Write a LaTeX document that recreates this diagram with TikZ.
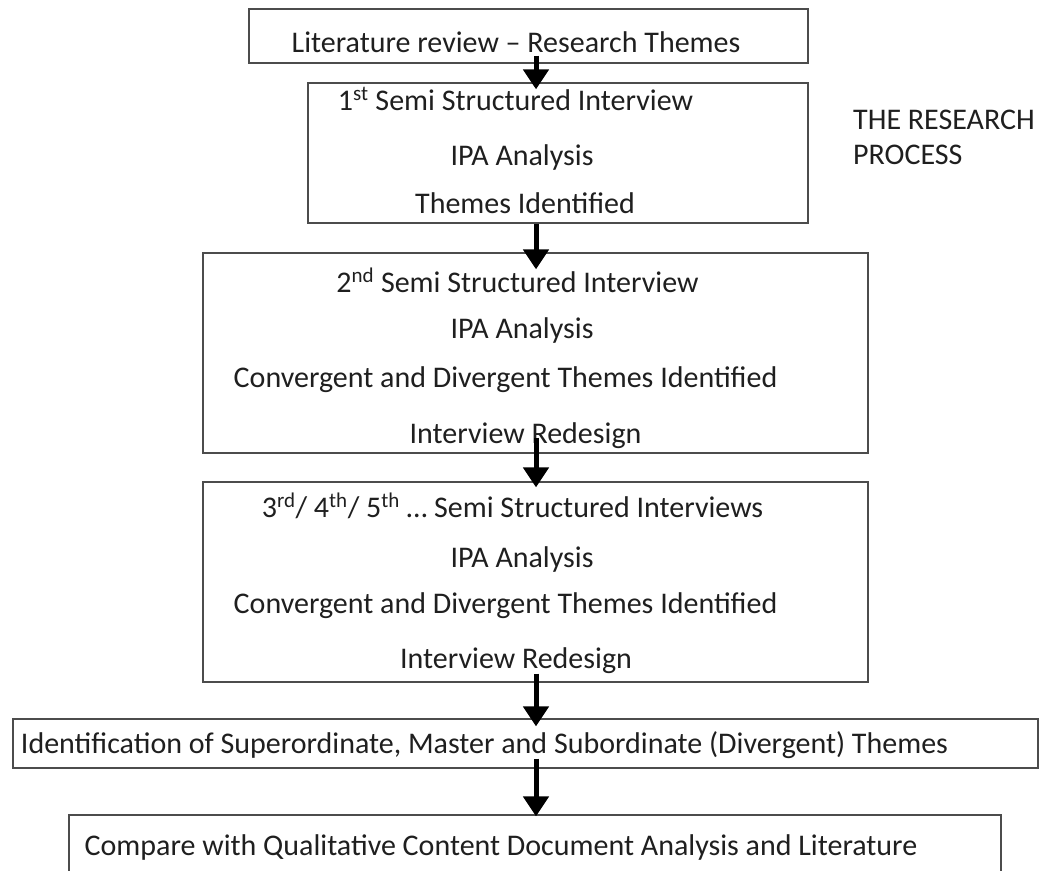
\documentclass[tikz,border=0pt]{standalone}
\usepackage{fontspec}
\setmainfont{Carlito}
\usetikzlibrary{arrows.meta}
\begin{document}
\begin{tikzpicture}[x=1pt,y=-1pt,
  box/.style={draw=black!70, line width=1.3pt, rectangle, inner sep=0pt},
  lbl/.style={font=\fontsize{30}{36}\selectfont, text=black!88, anchor=base, inner sep=0pt},
  flow/.style={draw=black, line width=5pt, -{Triangle[width=25pt,length=20pt]}}]
\useasboundingbox (0,0) rectangle (1040,870);
\clip (0,0) rectangle (1040,870);

% boxes of the process
\node[box, minimum width=559pt, minimum height=54pt]  (b1) at (528.5,36)   {};
\node[box, minimum width=500pt, minimum height=140pt] (b2) at (558,153)    {};
\node[box, minimum width=665pt, minimum height=200pt] (b3) at (535.5,353)  {};
\node[box, minimum width=665pt, minimum height=200pt] (b4) at (535.5,582)  {};
\node[box, minimum width=1025pt, minimum height=49pt] (b5) at (525.5,743.5){};
\node[box, minimum width=932pt, minimum height=90pt]  (b6) at (535,860)    {};

% box texts
\node[lbl] (t1)  at (516,52)    {Literature review – Research Themes};
\node[lbl] (t2a) at (515.5,110) {1\textsuperscript{st} Semi Structured Interview};
\node[lbl] (t2b) at (522,165)   {IPA Analysis};
\node[lbl] (t2c) at (525,213)   {Themes Identified};
\node[lbl] (t3a) at (517.5,292) {2\textsuperscript{nd} Semi Structured Interview};
\node[lbl] (t3b) at (522,338)   {IPA Analysis};
\node[lbl] (t3c) at (505.5,387) {Convergent and Divergent Themes Identified};
\node[lbl] (t3d) at (525.5,443) {Interview Redesign};
\node[lbl] (t4a) at (512.5,517) {3\textsuperscript{rd}/ 4\textsuperscript{th}/ 5\textsuperscript{th} … Semi Structured Interviews};
\node[lbl] (t4b) at (522,567)   {IPA Analysis};
\node[lbl] (t4c) at (505.5,613) {Convergent and Divergent Themes Identified};
\node[lbl] (t4d) at (516,668)   {Interview Redesign};
\node[lbl] (t5)  at (484.5,753) {Identification of Superordinate, Master and Subordinate (Divergent) Themes};
\node[lbl] (t6)  at (501,855)   {Compare with Qualitative Content Document Analysis and Literature};

% heading
\node[lbl, anchor=base west] (h1) at (853,129) {THE RESEARCH};
\node[lbl, anchor=base west] (h2) at (853,164) {PROCESS};

% connectors along the common axis
\coordinate (axis) at (536,0);
\draw[flow] ([yshift=8pt]b1.south -| axis)  -- ([yshift=-7pt]b2.north -| axis);
\draw[flow] (b2.south -| axis)               -- ([yshift=-17pt]b3.north -| axis);
\draw[flow] ([yshift=16pt]b3.south -| axis) -- ([yshift=-6pt]b4.north -| axis);
\draw[flow] ([yshift=9pt]b4.south -| axis)  -- ([yshift=-8pt]b5.north -| axis);
\draw[flow] ([yshift=10pt]b5.south -| axis) -- ([yshift=-2pt]b6.north -| axis);
\end{tikzpicture}
\end{document}
